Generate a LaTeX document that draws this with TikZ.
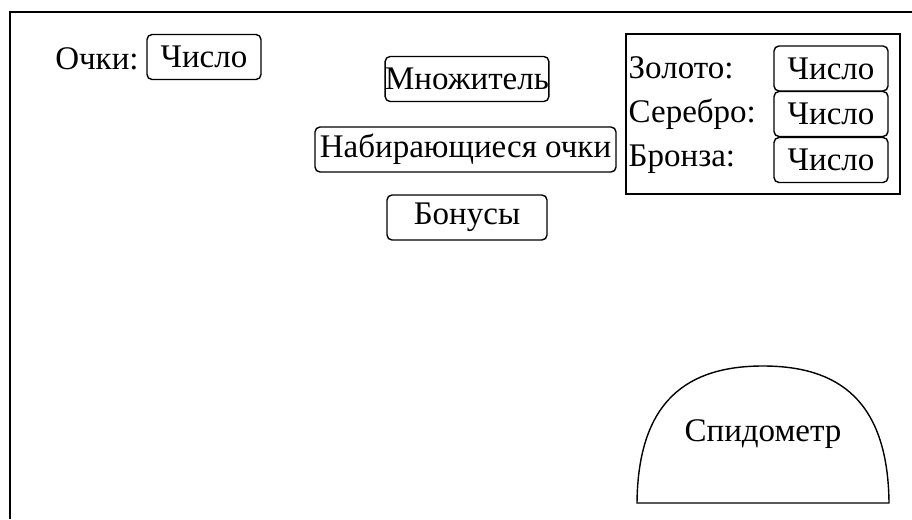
\documentclass[tikz,border=0pt]{standalone}
\usepackage{fontspec}
\setmainfont{Liberation Serif}
\usetikzlibrary{positioning}

\begin{document}
\begin{tikzpicture}[x=1pt, y=-1pt, line width=1.4pt,
    font=\fontsize{33}{38}\selectfont,
    numbox/.style={draw, rounded corners=5pt, inner xsep=0pt, minimum width=114pt, minimum height=45pt},
    hudbox/.style={draw, rounded corners=5pt, inner xsep=0pt, minimum height=45pt},
    lab/.style={inner sep=0pt, anchor=west}]
  \useasboundingbox (0,0) rectangle (912,519);
  % screen frame (cut at right and bottom)
  \draw (912,12) -- (10,12) -- (10,519);
  % score
  \node (ptsnum) [numbox] at (204,57) {Число};
  \node (ptslab) [inner sep=0pt, left=7pt of ptsnum, yshift=-2pt] {Очки:};
  % centre column
  \node (mult) [hudbox, minimum width=160pt] at (467,79) {Множитель};
  \node (accum) [hudbox, minimum width=301pt] at (465.5,149.5) {Набирающиеся очки};
  \node (bonus) [hudbox, minimum width=160pt] at (467,217.5) {Бонусы};
  % medals panel
  \draw (626,34) rectangle (900,194);
  \node (goldnum) [numbox] at (831,68.5) {Число};
  \node (silvnum) [numbox] at (831,114) {Число};
  \node (bronnum) [numbox] at (831,160) {Число};
  \node (goldlab) [lab] at (628,68) {Золото:};
  \node (silvlab) [lab] at (628,114) {Серебро:};
  \node (bronlab) [lab] at (628,159) {Бронза:};
  % speedometer
  \draw (637,503) .. controls (638,400) and (688,366) .. (763,366)
        .. controls (838,366) and (888,400) .. (889,503) -- cycle;
  \node (speedo) at (763,434) {Спидометр};
\end{tikzpicture}
\end{document}
